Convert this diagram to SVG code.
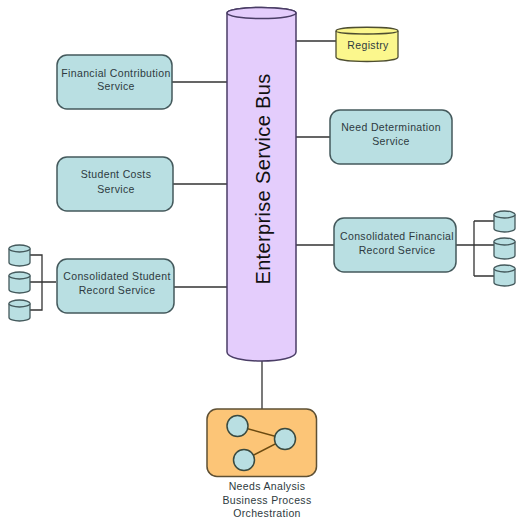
<svg xmlns="http://www.w3.org/2000/svg" width="525" height="521" viewBox="0 0 525 521">
<defs>
<g id="db"><path class="db" d="M0 3.500A10.500 3.500 0 0 1 21 3.500V17.500A10.500 3.500 0 0 1 0 17.500Z"/><path class="db" d="M0 3.500A10.500 3.500 0 0 0 21 3.500" fill="none"/></g>
</defs>
<style>
text{font-family:"Liberation Sans",Arial,sans-serif;font-size:10.500px;fill:#2d3a40;text-anchor:middle;letter-spacing:.35px}
.svc{fill:#b9dfe2;stroke:#44595c;stroke-width:1.500}
.db{fill:#b9dfe2;stroke:#44595c;stroke-width:1.300}
.c{fill:none;stroke:#333;stroke-width:1.300}
</style>
<rect width="525" height="521" fill="#fff"/>
<g id="connectors">
<path class="c" d="M172 82H228M173 184H228M174 287H228M296 41H336M296 137H330M296 245H334M262 361V409"/>
<path class="c" d="M30 255H42V310H30M30 282H56"/>
<path class="c" d="M456 245H494M474 221V276M474 221H494M474 276H494"/>
</g>
<g id="bus">
<path d="M227 13A34.500 5.500 0 0 1 296 13V352C296 364 227 364 227 352Z" fill="#e4cdfc" stroke="#4a3d66" stroke-width="1.500"/>
<ellipse cx="261.500" cy="13" rx="34.500" ry="5.500" fill="#e4cdfc" stroke="#4a3d66" stroke-width="1.500"/>
<text transform="translate(270 179) rotate(-90)" style="font-size:20px;fill:#111;letter-spacing:.35px">Enterprise Service Bus</text>
</g>
<g id="registry">
<path d="M336 31C336 26 398 26 398 31V57C398 63 336 63 336 57Z" fill="#fbf78d" stroke="#4e4e30" stroke-width="1.300"/>
<path d="M336 31C336 35 398 35 398 31" fill="none" stroke="#4e4e30" stroke-width="1.300"/>
<text x="368" y="49">Registry</text>
</g>
<g id="financial-contribution">
<rect class="svc" x="57" y="55" width="115" height="54" rx="10"/>
<text x="116" y="77">Financial Contribution</text><text x="116" y="90">Service</text>
</g>
<g id="student-costs">
<rect class="svc" x="57" y="157" width="116" height="54" rx="10"/>
<text x="116" y="178">Student Costs</text><text x="116" y="193">Service</text>
</g>
<g id="consolidated-student">
<rect class="svc" x="57" y="259" width="117" height="54" rx="10"/>
<text x="117" y="280">Consolidated Student</text><text x="117" y="294">Record Service</text>
</g>
<g id="need-determination">
<rect class="svc" x="330" y="110" width="122" height="54" rx="10"/>
<text x="391" y="131">Need Determination</text><text x="391" y="145">Service</text>
</g>
<g id="consolidated-financial">
<rect class="svc" x="334" y="218" width="122" height="54" rx="10"/>
<text x="397" y="240">Consolidated Financial</text><text x="397" y="254">Record Service</text>
</g>
<g id="student-dbs">
<use href="#db" x="9" y="245"/><use href="#db" x="9" y="272"/><use href="#db" x="9" y="300"/>
</g>
<g id="financial-dbs">
<use href="#db" x="494" y="211"/><use href="#db" x="494" y="238"/><use href="#db" x="494" y="265"/>
</g>
<g id="orchestration">
<rect x="207" y="409" width="109.500" height="67.500" rx="10" fill="#fcc577" stroke="#5e5034" stroke-width="1.500"/>
<path d="M237.500 426L285 439L244 460" fill="none" stroke="#6b4a10" stroke-width="1.500"/>
<circle cx="237.500" cy="426" r="10.500" fill="#b9dfe2" stroke="#3a4a40" stroke-width="1.500"/><circle cx="285" cy="439" r="10.500" fill="#b9dfe2" stroke="#3a4a40" stroke-width="1.500"/><circle cx="244" cy="460" r="10.500" fill="#b9dfe2" stroke="#3a4a40" stroke-width="1.500"/>
<text x="267" y="490">Needs Analysis</text><text x="267" y="504">Business Process</text><text x="267" y="517">Orchestration</text>
</g>
</svg>
